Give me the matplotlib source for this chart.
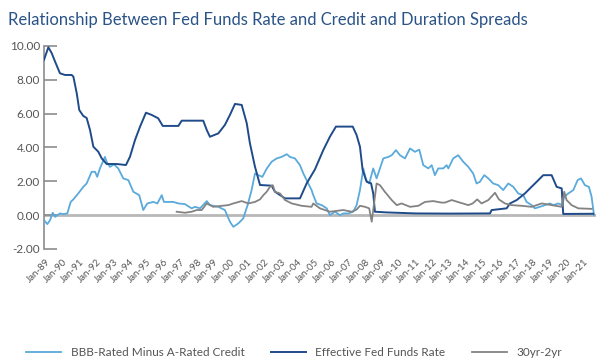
import matplotlib.pyplot as plt

# dates as decimal years, values in percent
ff_x = [1988.88, 1989.14, 1989.34, 1989.54, 1989.83, 1990.13, 1990.53, 1990.63, 1990.83, 1990.98,
        1991.22, 1991.42, 1991.62, 1991.82, 1992.11, 1992.32, 1992.61, 1993.21, 1993.76, 1994.00,
        1994.30, 1994.60, 1994.95, 1995.29, 1995.68, 1995.95, 1996.88, 1997.08, 1998.36, 1998.57,
        1998.76, 1999.26, 1999.65, 1999.95, 2000.25, 2000.65, 2000.95, 2001.14, 2001.44, 2001.74,
        2002.43, 2002.63, 2003.23, 2004.12, 2004.52, 2005.01, 2005.51, 2005.90, 2006.26, 2007.26,
        2007.49, 2007.69, 2007.85, 2008.09, 2008.35, 2008.48, 2008.58, 2009.28, 2011.00, 2013.00,
        2015.43, 2015.53, 2016.42, 2016.62, 2017.02, 2017.51, 2017.81, 2018.21, 2018.60, 2019.10,
        2019.40, 2019.70, 2019.79, 2021.58]
ff_y = [9.17, 9.92, 9.57, 9.07, 8.38, 8.28, 8.28, 8.18, 7.20, 6.21,
        5.86, 5.74, 5.03, 4.04, 3.75, 3.35, 3.02, 3.02, 2.96, 3.45,
        4.44, 5.23, 6.05, 5.92, 5.72, 5.27, 5.27, 5.58, 5.58, 5.03,
        4.63, 4.83, 5.33, 5.92, 6.57, 6.51, 5.43, 4.24, 2.86, 1.78,
        1.74, 1.38, 0.99, 0.99, 1.88, 2.70, 3.85, 4.63, 5.23, 5.23,
        4.73, 4.04, 2.66, 1.97, 1.88, 1.28, 0.20, 0.16, 0.10, 0.09,
        0.10, 0.30, 0.40, 0.69, 0.89, 1.28, 1.58, 1.97, 2.36, 2.36,
        1.67, 1.58, 0.07, 0.08]

bbb_x = [1988.88, 1989.08, 1989.24, 1989.40, 1989.54, 1989.83, 1990.03, 1990.27, 1990.47, 1990.63,
         1990.92, 1991.22, 1991.42, 1991.72, 1991.92, 1992.05, 1992.21, 1992.51, 1992.61, 1992.81,
         1993.05, 1993.30, 1993.60, 1993.90, 1994.20, 1994.55, 1994.79, 1995.03, 1995.39, 1995.63,
         1995.89, 1996.02, 1996.58, 1996.88, 1997.27, 1997.67, 1997.87, 1998.17, 1998.57, 1998.76,
         1999.26, 1999.65, 1999.95, 2000.15, 2000.45, 2000.74, 2001.00, 2001.24, 2001.44, 2001.64,
         2001.88, 2002.14, 2002.43, 2002.73, 2003.03, 2003.33, 2003.52, 2003.82, 2004.12, 2004.32,
         2004.61, 2004.81, 2004.91, 2005.11, 2005.41, 2005.71, 2005.90, 2006.20, 2006.50, 2006.70,
         2006.99, 2007.29, 2007.49, 2007.69, 2007.89, 2008.05, 2008.24, 2008.48, 2008.68, 2008.88,
         2009.08, 2009.38, 2009.58, 2009.83, 2010.07, 2010.37, 2010.67, 2010.96, 2011.22, 2011.46,
         2011.76, 2011.96, 2012.15, 2012.35, 2012.65, 2012.85, 2012.95, 2013.24, 2013.54, 2013.84,
         2014.14, 2014.43, 2014.63, 2014.83, 2015.09, 2015.33, 2015.62, 2015.92, 2016.22, 2016.52,
         2016.82, 2017.11, 2017.41, 2017.61, 2017.91, 2018.10, 2018.40, 2018.70, 2019.00, 2019.20,
         2019.49, 2019.73, 2019.85, 2020.09, 2020.39, 2020.65, 2020.85, 2021.08, 2021.32, 2021.48,
         2021.62]
bbb_y = [-0.30, -0.53, -0.30, 0.14, -0.10, 0.10, 0.06, 0.10, 0.78, 0.93,
         1.28, 1.67, 1.87, 2.56, 2.56, 2.26, 2.76, 3.44, 3.15, 2.85,
         3.00, 2.76, 2.17, 2.07, 1.38, 1.18, 0.30, 0.69, 0.78, 0.69,
         1.18, 0.78, 0.78, 0.69, 0.65, 0.40, 0.49, 0.40, 0.83, 0.59,
         0.49, 0.30, -0.39, -0.69, -0.49, -0.20, 0.59, 1.48, 2.46, 2.36,
         2.26, 2.75, 3.15, 3.35, 3.44, 3.60, 3.44, 3.35, 2.95, 2.46,
         1.87, 1.48, 1.18, 0.69, 0.59, 0.40, 0.00, 0.20, 0.00, 0.10,
         0.10, 0.20, 0.59, 1.48, 2.76, 2.07, 1.87, 2.76, 2.17, 2.76,
         3.35, 3.44, 3.54, 3.84, 3.54, 3.35, 3.94, 3.74, 3.87, 2.95,
         2.76, 2.95, 2.36, 2.76, 2.76, 2.95, 2.76, 3.35, 3.54, 3.15,
         2.85, 2.46, 1.87, 1.97, 2.36, 2.17, 1.87, 1.77, 1.48, 1.87,
         1.67, 1.28, 1.18, 0.78, 0.59, 0.40, 0.49, 0.59, 0.69, 0.59,
         0.69, 0.59, 1.08, 1.28, 1.48, 2.07, 2.17, 1.77, 1.67, 1.08,
         0.00]

tsy_x = [1996.78, 1997.27, 1997.67, 1997.97, 1998.27, 1998.57, 1998.96, 1999.46, 1999.85, 2000.15,
         2000.65, 2001.04, 2001.44, 2001.74, 2001.94, 2002.14, 2002.33, 2002.50, 2002.63, 2002.93,
         2003.23, 2003.63, 2004.22, 2004.81, 2004.91, 2005.31, 2005.90, 2006.70, 2007.20, 2007.49,
         2007.69, 2007.99, 2008.24, 2008.39, 2008.48, 2008.68, 2008.88, 2009.17, 2009.58, 2009.88,
         2010.17, 2010.67, 2011.16, 2011.56, 2012.05, 2012.55, 2012.75, 2013.15, 2013.64, 2014.14,
         2014.40, 2014.67, 2014.93, 2015.33, 2015.73, 2015.96, 2016.32, 2016.72, 2017.32, 2017.91,
         2018.51, 2019.10, 2019.70, 2019.85, 2019.99, 2020.29, 2020.69, 2021.48]
tsy_y = [0.20, 0.14, 0.20, 0.30, 0.30, 0.69, 0.49, 0.55, 0.59, 0.69,
         0.83, 0.69, 0.78, 0.93, 1.18, 1.38, 1.67, 1.77, 1.38, 1.28,
         0.89, 0.69, 0.55, 0.49, 0.69, 0.40, 0.20, 0.30, 0.20, 0.33,
         0.55, 0.49, 0.40, -0.39, 0.30, 1.87, 1.77, 1.38, 0.89, 0.59,
         0.69, 0.49, 0.55, 0.78, 0.83, 0.74, 0.74, 0.89, 0.74, 0.59,
         0.69, 0.93, 0.69, 0.89, 1.32, 0.93, 0.69, 0.59, 0.55, 0.49,
         0.69, 0.59, 0.49, 1.38, 0.89, 0.59, 0.40, 0.37]

years = list(range(1989, 2022))
year_labels = ['Jan-%02d' % (y % 100) for y in years]

light = '#5aaadb'
navy = '#1f4b8a'
grey = '#838383'

fig = plt.figure(figsize=(6, 3.64), dpi=100)
ax = fig.add_axes([0.0733, 0.316, 0.92, 0.558])

ax.axhline(0, color='#b8b8b8', lw=2, zorder=1)
ax.plot(bbb_x, bbb_y, color=light, lw=1.3, label='BBB-Rated Minus A-Rated Credit', zorder=3)
ax.plot(ff_x, ff_y, color=navy, lw=1.4, label='Effective Fed Funds Rate', zorder=3)
ax.plot(tsy_x, tsy_y, color=grey, lw=1.3, label='30yr-2yr', zorder=3)

ax.set_xlim(1988.88, 2021.74)
ax.set_ylim(-2, 10)
ax.set_yticks([-2, 0, 2, 4, 6, 8, 10])
ax.set_yticklabels(['%.2f' % v for v in [-2, 0, 2, 4, 6, 8, 10]],
                   fontsize=8.5, color='#555555', family='Lato')
ax.tick_params(axis='y', direction='in', length=9.5, width=1.2, color='#8c8c8c', pad=3)
ax.set_xticks(years)
ax.set_xticklabels(year_labels, rotation=45, ha='right', rotation_mode='anchor',
                   fontsize=7, color='#555555', family='Lato')
ax.tick_params(axis='x', length=0, pad=6)

for s in ['top', 'right', 'bottom']:
    ax.spines[s].set_visible(False)
ax.spines['left'].set_color('#8c8c8c')
ax.spines['left'].set_linewidth(1.2)

fig.text(0.013, 0.945, 'Relationship Between Fed Funds Rate and Credit and Duration Spreads',
         fontsize=12, color='#2a5387', family='Lato', va='center')

fig.legend(loc='lower center', bbox_to_anchor=(0.49, -0.012), ncol=3, frameon=False,
           prop={'family': 'Lato', 'size': 8.5}, handlelength=3.0, columnspacing=2.2,
           labelcolor='#555555')

fig.savefig('out.png', dpi=100)
